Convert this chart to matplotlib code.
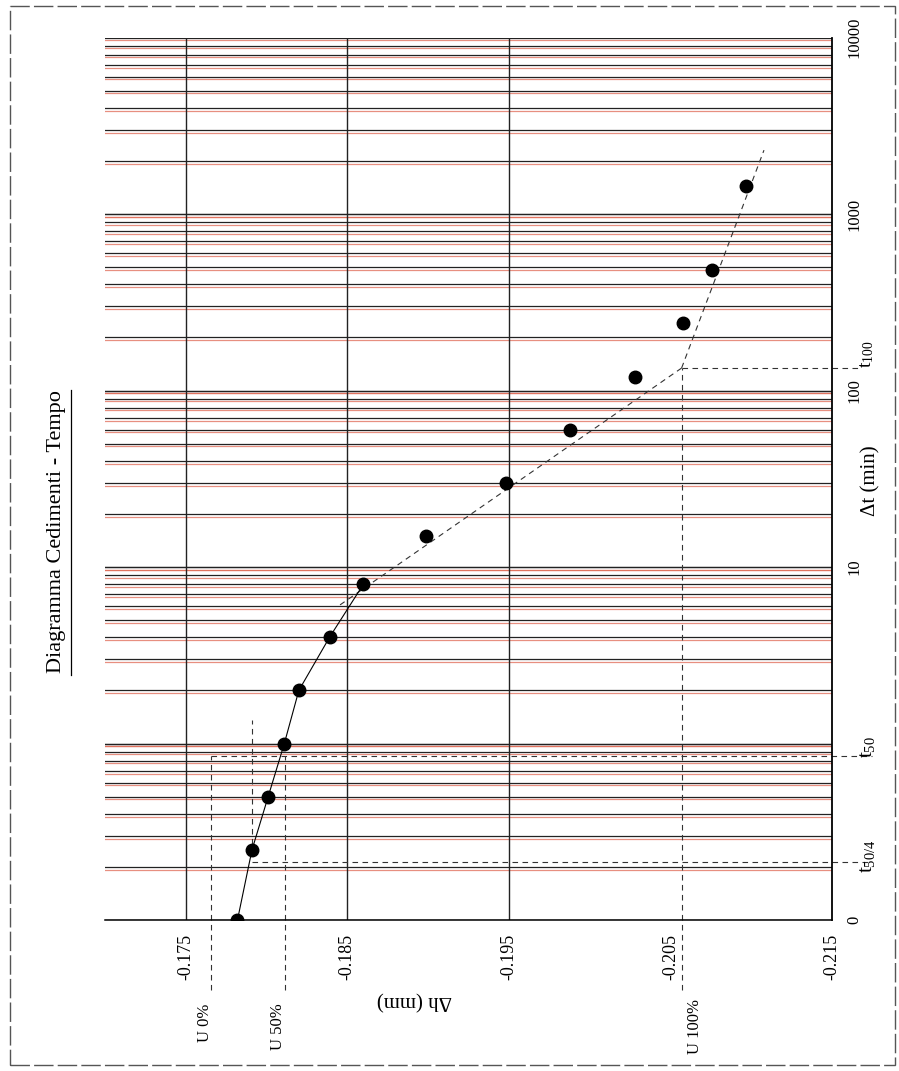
import numpy as np
import matplotlib
matplotlib.use('Agg')
import matplotlib.pyplot as plt
from matplotlib.transforms import ScaledTranslation
from matplotlib.patches import Rectangle
from matplotlib.lines import Line2D

plt.rcParams['font.family'] = ['Liberation Serif', 'DejaVu Serif']
plt.rcParams['mathtext.fontset'] = 'custom'
plt.rcParams['mathtext.rm'] = 'Liberation Serif'
plt.rcParams['mathtext.it'] = 'Liberation Serif:italic'

# letture cedimento - tempo
tempi = [0, 0.25, 0.5, 1, 2, 4, 8, 15, 30, 60, 120, 240, 480, 1440]          # min
cedimenti = [-0.1782, -0.1791, -0.1801, -0.1811, -0.1820, -0.1839, -0.1860,
             -0.1899, -0.1948, -0.1988, -0.2028, -0.2058, -0.2076, -0.2097]   # mm

# costruzione grafica
U0 = -0.17657
U50 = -0.18113
U100 = -0.20569
t50 = 0.85
t50_4 = 0.2125
t100 = 134
tangente_t = [6.1, t100]
tangente_h = [-0.18455, U100]
coda_t = [t100, 2300]
coda_h = [U100, -0.21079]

dh_ticks = [-0.175, -0.185, -0.195, -0.205, -0.215]
dh_grid = [-0.175, -0.185, -0.195]
t_decadi = [0.1, 1, 10, 100, 1000, 10000]
t_etichette = ['0', '', '10', '100', '1000', '10000']

fig = plt.figure(figsize=(8.99, 10.71), dpi=100)
ax = fig.add_axes([105/899, 1 - 920/1071, 727/899, (920 - 37.5)/1071])
ax.set_yscale('log')
ax.set_xlim(-0.170, -0.215)
ax.set_ylim(0.1, 10000)

# griglia orizzontale (tempi) con alone rosso della scansione
rosso = ax.get_yaxis_transform() + ScaledTranslation(0, -2/72, fig.dpi_scale_trans)
for dec in t_decadi[:-1]:
    for k in range(1, 11):
        v = dec * k
        ax.axhline(v, color='#222222', lw=0.9, zorder=1)
        ax.plot([0, 1], [v, v], color='#e06a55', lw=0.9, alpha=0.75,
                transform=rosso, zorder=0.9)
for v in dh_grid:
    ax.axvline(v, color='#222222', lw=1.0, zorder=1)

for s in ['left', 'top']:
    ax.spines[s].set_visible(False)
ax.spines['right'].set_linewidth(1.3)
ax.spines['bottom'].set_linewidth(1.1)

# dati
tp = np.where(np.array(tempi) == 0, 0.1, tempi)
ax.plot(cedimenti[:7], tp[:7], color='k', lw=0.8, zorder=3)
ax.plot(cedimenti, tp, 'o', color='k', ms=9, zorder=4)

# linee di costruzione
kw = dict(color='#333333', lw=0.8, ls=(0, (5, 4)), clip_on=False, zorder=2)
ax.plot(tangente_h, tangente_t, **kw)
ax.plot(coda_h, coda_t, **kw)
ax.plot([U0, U0], [0.04, t50], **kw)
ax.plot([U50, U50], [0.04, t50], **kw)
ax.plot([U100, U100], [0.04, t100], **kw)
ax.plot([cedimenti[1], cedimenti[1]], [0.27, 1.35], **kw)
ax.plot([U0, -0.2175], [t50, t50], **kw)
ax.plot([cedimenti[1], -0.2175], [t50_4, t50_4], **kw)
ax.plot([U100, -0.2167], [t100, t100], **kw)

# assi
ax.set_xticks(dh_ticks)
ax.set_xticklabels([f'{v:.3f}' for v in dh_ticks], rotation=90, fontsize=13)
ax.tick_params(axis='x', length=0, pad=10)
ax.set_yticks([])
ax.yaxis.set_minor_locator(matplotlib.ticker.NullLocator())

ty = ax.get_yaxis_transform()
for v, lab in zip(t_decadi, t_etichette):
    if lab:
        ax.text(1.02, v, lab, transform=ty, rotation=90, ha='left', va='center', fontsize=12)
ax.text(1.036, t50 * 1.12, r't$_{\mathrm{50}}$', transform=ty, rotation=90,
        ha='left', va='center', fontsize=15)
ax.text(1.036, t50_4 * 1.08, r't$_{\mathrm{50/4}}$', transform=ty, rotation=90,
        ha='left', va='center', fontsize=15)
ax.text(1.036, 160, r't$_{\mathrm{100}}$', transform=ty, rotation=90,
        ha='left', va='center', fontsize=14)
ax.text(1.04, 31, 'Δt (min)', transform=ty, rotation=90, ha='left', va='center', fontsize=15)

tx = ax.get_xaxis_transform()
ax.text(-0.18918, (920 - 1000) / 882.5, 'Δh (mm)', transform=tx, rotation=180,
        ha='center', va='center', fontsize=15)
ax.text(U0 + 0.0004, (920 - 1023) / 882.5, 'U 0%', transform=tx, rotation=90,
        ha='center', va='center', fontsize=12)
ax.text(U50 + 0.0004, (920 - 1027) / 882.5, 'U 50%', transform=tx, rotation=90,
        ha='center', va='center', fontsize=12)
ax.text(U100 - 0.0008, (920 - 1027) / 882.5, 'U 100%', transform=tx, rotation=90,
        ha='center', va='center', fontsize=12)

# titolo sottolineato
fig.text(57/899, 1 - 532/1071, 'Diagramma Cedimenti - Tempo', rotation=90,
         ha='center', va='center', fontsize=16)
fig.add_artist(Line2D([71/899, 71/899], [1 - 675/1071, 1 - 390/1071], color='k', lw=0.9))

# cornice della pagina
fig.add_artist(Rectangle((10/899, 6/1071), 885/899, 1059/1071, fill=False,
                         edgecolor='#555555', lw=1.0, ls=(0, (14, 3))))

fig.savefig('out.png', dpi=100)
